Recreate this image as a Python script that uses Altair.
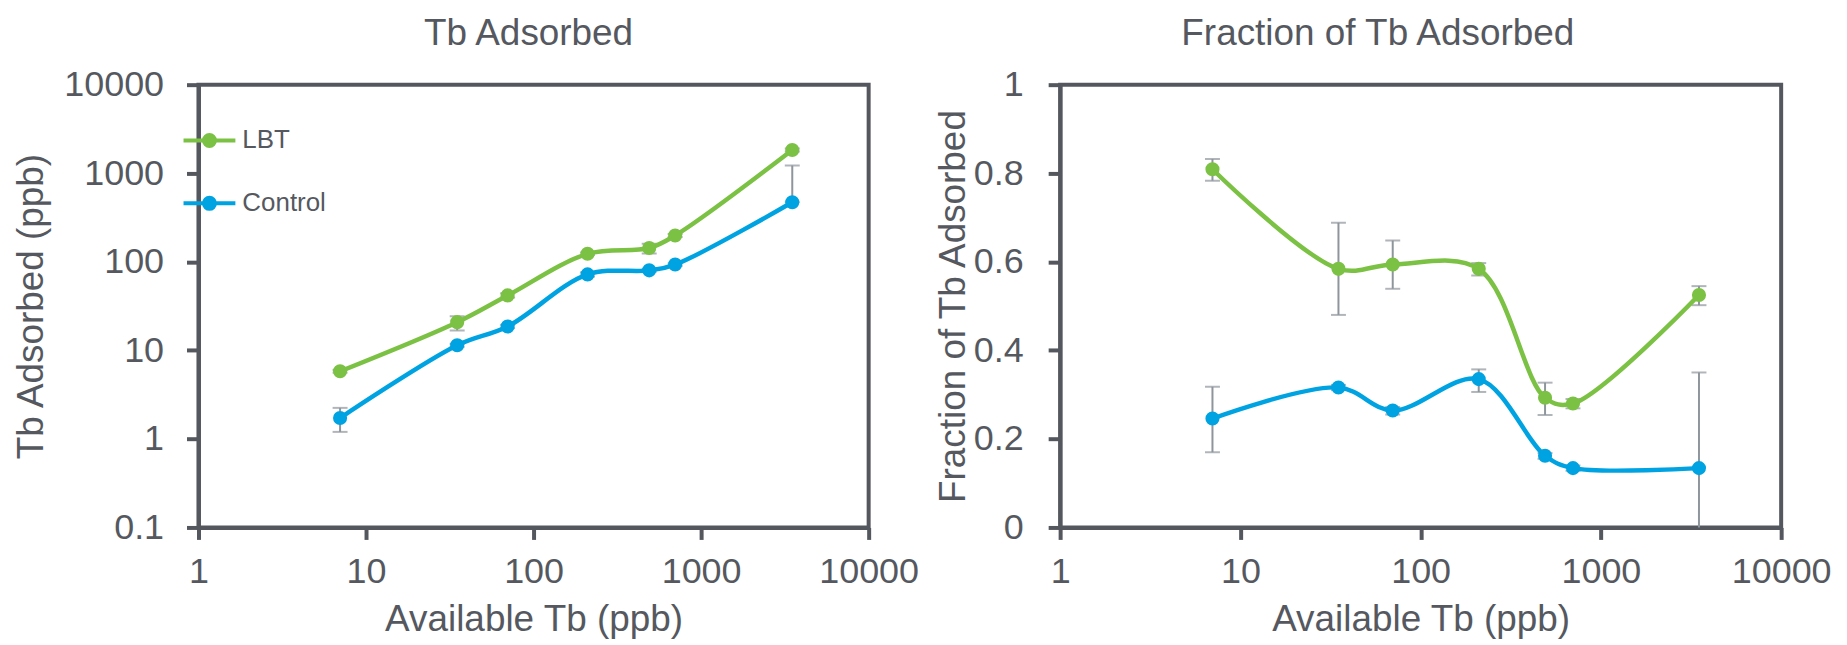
import altair as alt
import pandas as pd

# ---- data ----
series_names = ["LBT", "Control"]
available = [7, 35, 70, 210, 490, 700, 3500]

lbt_ads = [5.8, 20.8, 41.7, 123, 143, 198, 1830]
lbt_ads_lo = [5.6, 16.8, 39.5, 119, 124, 190, 1760]
lbt_ads_hi = [6.0, 24.2, 44.0, 127, 160, 206, 1900]
ctl_ads = [1.72, 11.4, 18.6, 72, 80, 93, 470]
ctl_ads_lo = [1.2, 11.0, 17.8, 68, 77, 90, 470]
ctl_ads_hi = [2.24, 11.8, 19.4, 76, 83, 96, 1220]

lbt_frac = [0.809, 0.584, 0.594, 0.584, 0.293, 0.280, 0.525]
lbt_frac_lo = [0.783, 0.480, 0.539, 0.569, 0.254, 0.269, 0.502]
lbt_frac_hi = [0.832, 0.688, 0.648, 0.597, 0.327, 0.290, 0.545]
ctl_frac = [0.246, 0.316, 0.264, 0.335, 0.162, 0.134, 0.134]
ctl_frac_lo = [0.170, 0.310, 0.255, 0.306, 0.155, 0.128, -0.08]
ctl_frac_hi = [0.318, 0.322, 0.272, 0.357, 0.168, 0.140, 0.350]

x_ticks = [1, 10, 100, 1000, 10000]
y_ticks_left = [0.1, 1, 10, 100, 1000, 10000]
y_ticks_right = [0, 0.2, 0.4, 0.6, 0.8, 1]

# ---- style ----
GREEN = "#7BC143"
BLUE = "#00A3E1"
ERR = "#8E959C"
AX = "#54585E"
TXT = "#55595F"
FONT = "Liberation Sans"
FS_TITLE = 37
FS_LABEL = 36
PT_SIZE = 200


def ring(r):
    return "M-{0},0A{0},{0},0,1,0,{0},0A{0},{0},0,1,0,-{0},0".format(r)


# legend glyph: a short line with a solid dot (dot built from stroked rings)
LEG_PATH = "M-2.6,0L2.6,0" + ring(0.15) + ring(0.35) + ring(0.55)


def make_df(vals_l, lo_l, hi_l, vals_c, lo_c, hi_c):
    rows = []
    for name, v, lo, hi in (("LBT", vals_l, lo_l, hi_l), ("Control", vals_c, lo_c, hi_c)):
        for a, y, l, h in zip(available, v, lo, hi):
            rows.append({"series": name, "avail": a, "y": y, "lo": l, "hi": h})
    return pd.DataFrame(rows)


df_ads = make_df(lbt_ads, lbt_ads_lo, lbt_ads_hi, ctl_ads, ctl_ads_lo, ctl_ads_hi)
df_frac = make_df(lbt_frac, lbt_frac_lo, lbt_frac_hi, ctl_frac, ctl_frac_lo, ctl_frac_hi)

cscale = alt.Scale(domain=series_names, range=[GREEN, BLUE])

axis_common = dict(
    domainColor=AX, domainWidth=4, tickColor=AX, tickWidth=4, tickSize=12,
    labelFont=FONT, labelFontSize=FS_LABEL, labelColor=TXT,
    labelFlush=False, labelOverlap=False,
    titleFont=FONT, titleFontSize=FS_TITLE, titleFontWeight="normal", titleColor=TXT,
    grid=False, format="~g",
)


def panel(df, ydomain, ylog, yvals, ytitle, title, title_dx, width, line_leg,
          y_lab_pad, y_title_pad):
    xaxis = alt.Axis(values=x_ticks, title="Available Tb (ppb)", labelPadding=15,
                     titlePadding=12, **axis_common)
    yaxis = alt.Axis(values=yvals, title=ytitle, labelPadding=y_lab_pad,
                     titlePadding=y_title_pad, **axis_common)
    xs = alt.Scale(type="log", domain=[1, 10000], nice=False)
    if ylog:
        ys = alt.Scale(type="log", domain=ydomain, nice=False)
    else:
        ys = alt.Scale(domain=ydomain, nice=False, zero=False)
    X = alt.X("avail:Q", scale=xs, axis=xaxis)
    base = alt.Chart(df)
    err = base.mark_rule(color=ERR, strokeWidth=2, clip=True).encode(
        x=X, y=alt.Y("lo:Q", scale=ys, axis=yaxis), y2="hi:Q")
    cap_lo = base.mark_tick(orient="horizontal", color=ERR, size=15, thickness=2, clip=True).encode(
        x=X, y=alt.Y("lo:Q", scale=ys, axis=yaxis))
    cap_hi = base.mark_tick(orient="horizontal", color=ERR, size=15, thickness=2, clip=True).encode(
        x=X, y=alt.Y("hi:Q", scale=ys, axis=yaxis))
    line = base.mark_line(interpolate="catmull-rom", strokeWidth=4.5).encode(
        x=X, y=alt.Y("y:Q", scale=ys, axis=yaxis),
        color=alt.Color("series:N", scale=cscale, legend=line_leg),
        order=alt.Order("avail:Q"))
    pts = base.mark_circle(size=PT_SIZE, opacity=1).encode(
        x=X, y=alt.Y("y:Q", scale=ys, axis=yaxis),
        fill=alt.Fill("series:N", scale=cscale, legend=None))
    return alt.layer(err, cap_lo, cap_hi, line, pts).properties(
        width=width, height=444,
        title=alt.TitleParams(title, font=FONT, fontSize=FS_TITLE, fontWeight="normal", color=TXT,
                              anchor="middle", frame="group", dx=title_dx, offset=14),
    )


legend = alt.Legend(title=None, orient="none", legendX=-2, legendY=43,
                    symbolType=LEG_PATH, symbolSize=400, symbolStrokeWidth=4,
                    labelFont=FONT, labelFontSize=26, labelColor=TXT,
                    labelOffset=20, rowPadding=35, padding=0)

left = panel(df_ads, [0.1, 10000], True, y_ticks_left, "Tb Adsorbed (ppb)",
             "Tb Adsorbed", -5, 672, legend, 23, 13)
right = panel(df_frac, [0, 1], False, y_ticks_right, "Fraction of Tb Adsorbed",
              "Fraction of Tb Adsorbed", -43, 723, None, 25, 1)

chart = alt.hconcat(left, right, spacing=10).resolve_scale(
    fill="independent", color="independent"
).resolve_legend(fill="independent", color="independent").configure_view(
    stroke=AX, strokeWidth=4
).properties(padding={"left": 2, "top": 4, "right": 5, "bottom": 5}, background="white")

chart.save("out.html", embed_options={"renderer": "svg", "actions": False})
